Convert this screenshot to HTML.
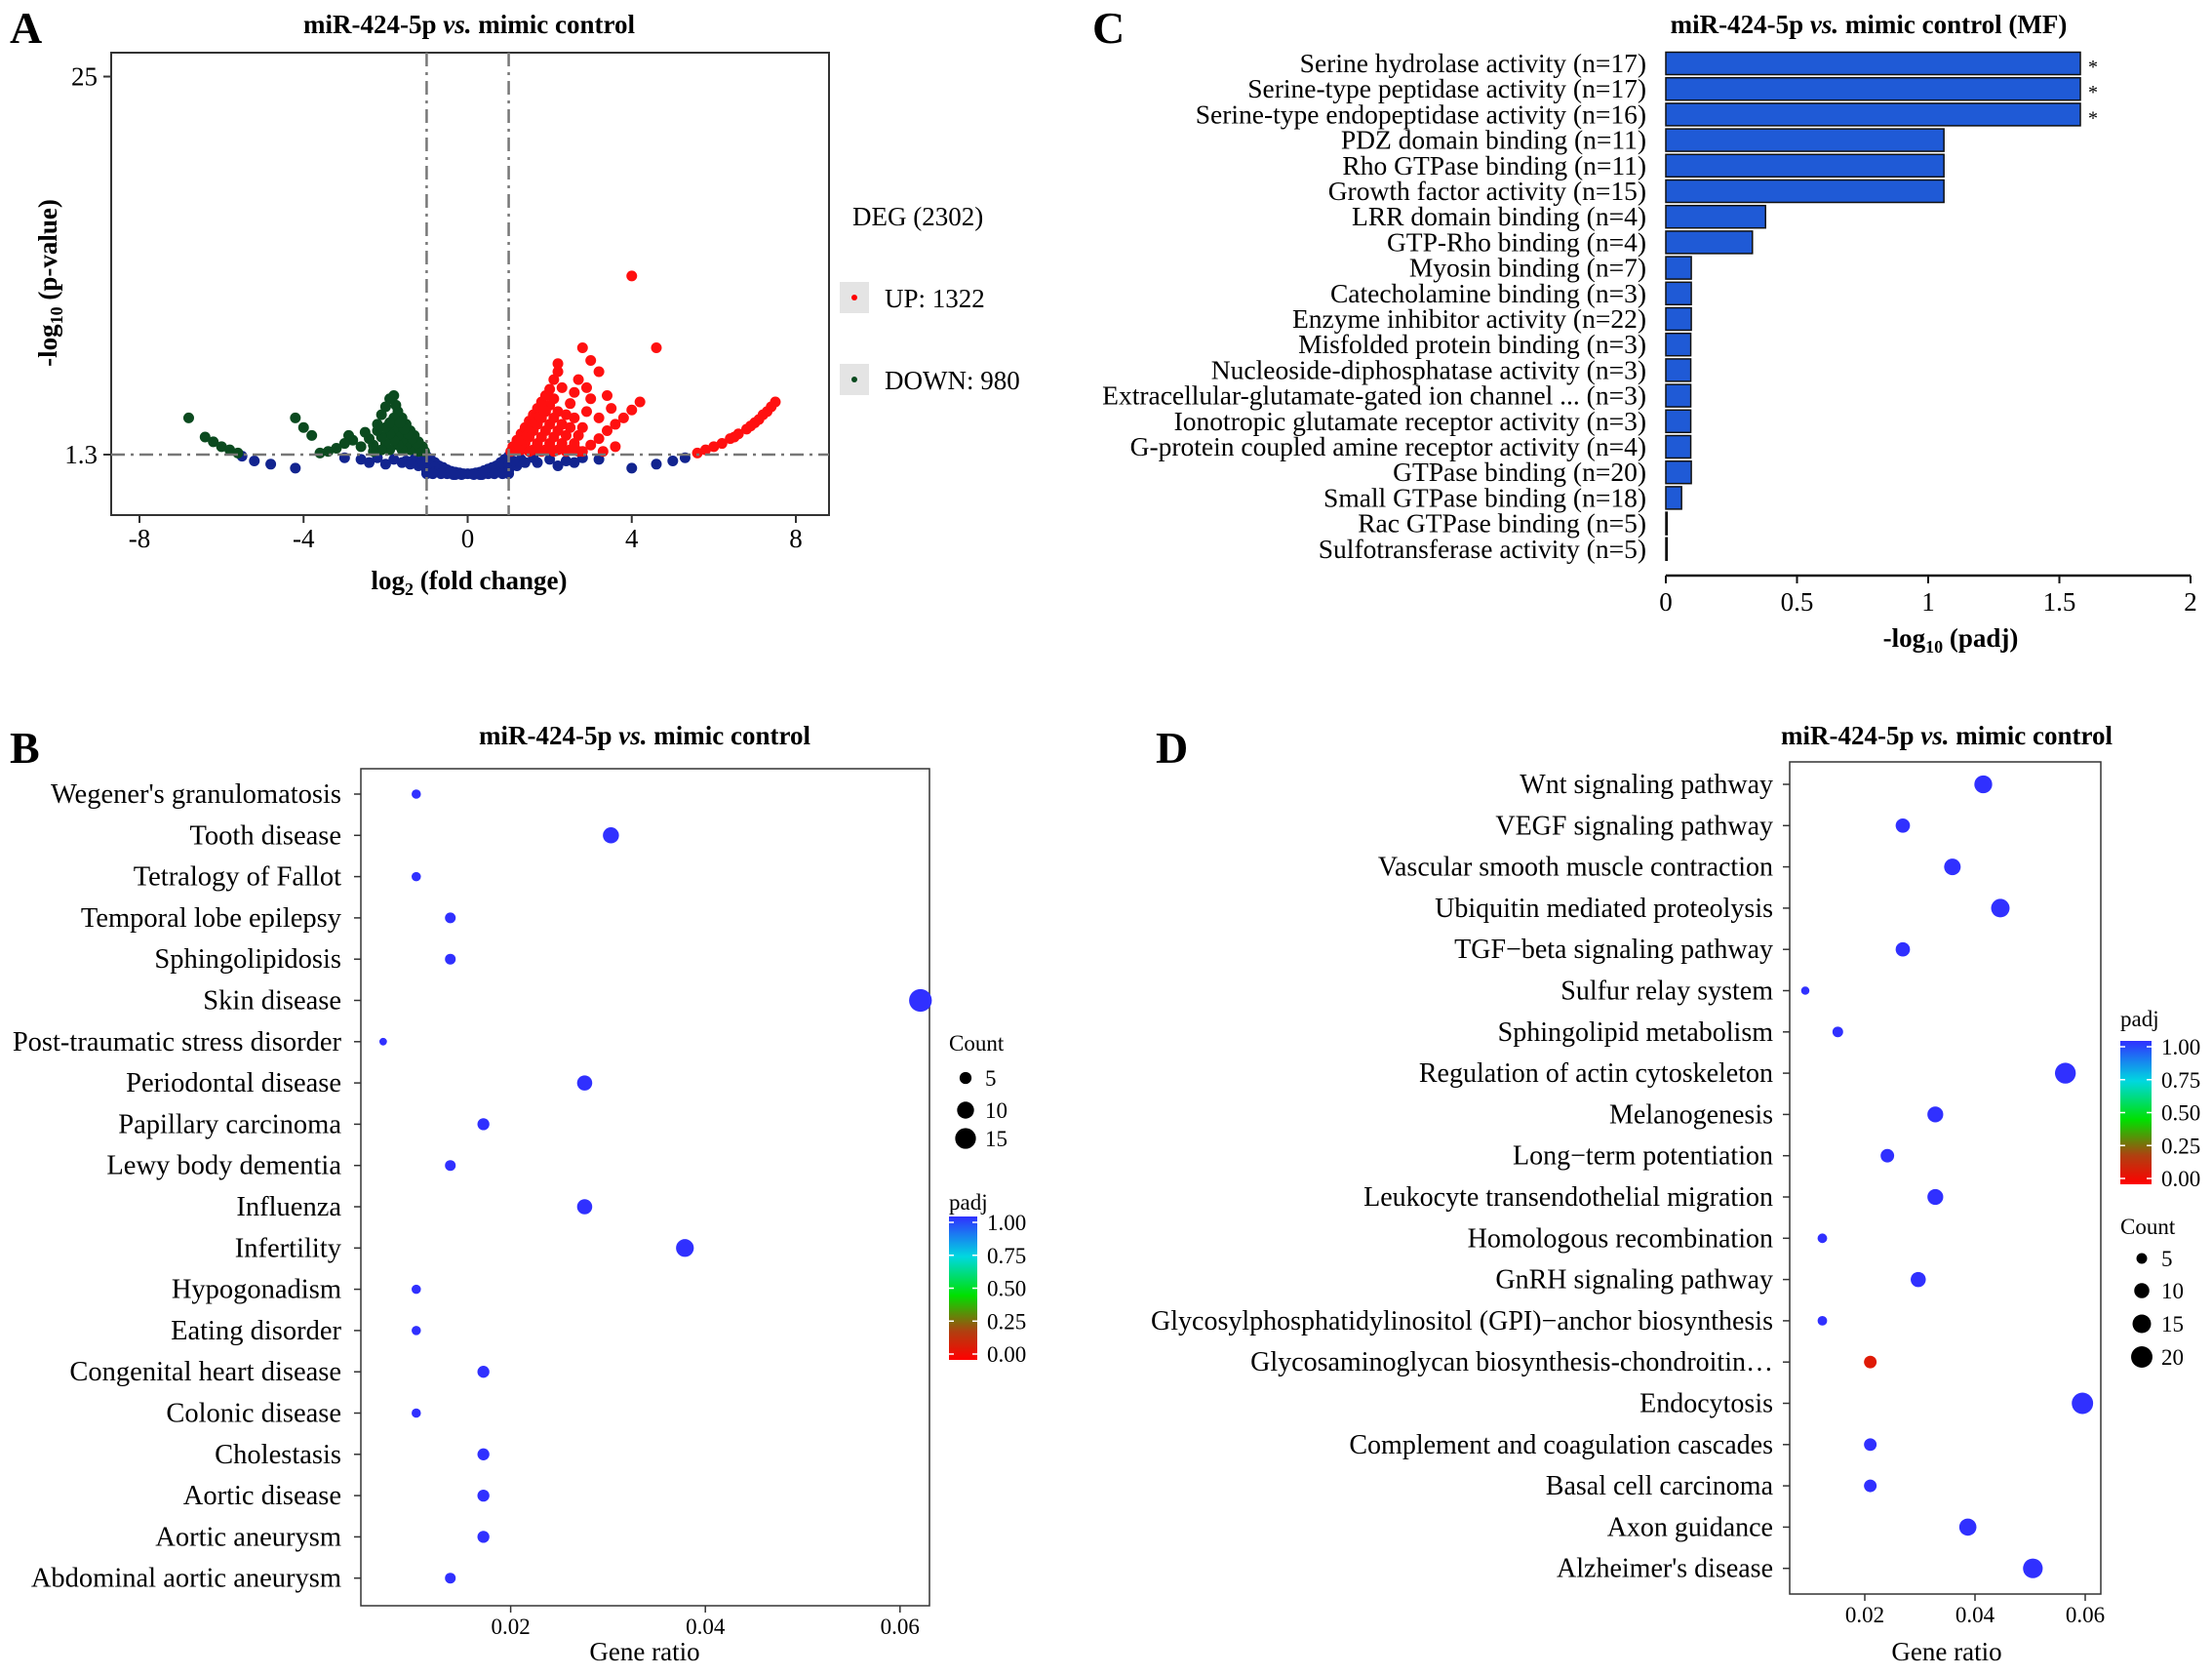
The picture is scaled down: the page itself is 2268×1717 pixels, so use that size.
<!DOCTYPE html>
<html><head><meta charset="utf-8"><style>
html,body{margin:0;padding:0;background:#fff}
svg{display:block;font-family:"Liberation Serif",serif}
</style></head><body>
<svg id="root" width="2268" height="1717" viewBox="0 0 2268 1717" xmlns="http://www.w3.org/2000/svg">
<defs>
<linearGradient id="padjGrad" x1="0" y1="1" x2="0" y2="0">
<stop offset="0" stop-color="#ff0000"/><stop offset="0.2" stop-color="#b04010"/><stop offset="0.45" stop-color="#00e000"/><stop offset="0.72" stop-color="#00d8e0"/><stop offset="1" stop-color="#3030ff"/>
</linearGradient>
</defs>
<text x="10" y="44" font-size="46" font-weight="bold">A</text>
<text x="10" y="782" font-size="46" font-weight="bold">B</text>
<text x="1120" y="44" font-size="46" font-weight="bold">C</text>
<text x="1185" y="782" font-size="46" font-weight="bold">D</text>

<g id="panelA">
<text x="481" y="34" font-size="27" font-weight="bold" text-anchor="middle">miR-424-5p <tspan font-style="italic">vs.</tspan> mimic control</text>
<rect x="114" y="54" width="736" height="474" fill="none" stroke="#333" stroke-width="2"/>
<g id="volDots"></g>
<text x="481" y="604" font-size="27" font-weight="bold" text-anchor="middle">log<tspan font-size="18" dy="6">2</tspan><tspan dy="-6"> (fold change)</tspan></text>
<text transform="translate(58,290) rotate(-90)" font-size="27" font-weight="bold" text-anchor="middle">-log<tspan font-size="18" dy="6">10</tspan><tspan dy="-6"> (p-value)</tspan></text>
<text x="874" y="231" font-size="27">DEG (2302)</text>
<rect x="861" y="289" width="30" height="32" fill="#e4e4e4"/>
<circle cx="876" cy="305" r="3" fill="#ff0000"/>
<text x="907" y="315" font-size="27">UP: 1322</text>
<rect x="861" y="373" width="30" height="32" fill="#e4e4e4"/>
<circle cx="876" cy="389" r="3" fill="#0b4a1f"/>
<text x="907" y="399" font-size="27">DOWN: 980</text>
</g>

<g id="panelC">
<text x="1916" y="34" font-size="27" font-weight="bold" text-anchor="middle">miR-424-5p <tspan font-style="italic">vs.</tspan> mimic control (MF)</text>
<g id="barG"></g>
<text x="2000" y="663" font-size="27" font-weight="bold" text-anchor="middle">-log<tspan font-size="18" dy="6">10</tspan><tspan dy="-6"> (padj)</tspan></text>
</g>

<g id="panelB">
<text x="661" y="763" font-size="27" font-weight="bold" text-anchor="middle">miR-424-5p <tspan font-style="italic">vs.</tspan> mimic control</text>
<rect x="370" y="788" width="583" height="858" fill="none" stroke="#333" stroke-width="1.5"/>
<g id="dotB"></g>
<text x="661" y="1702" font-size="27" text-anchor="middle">Gene ratio</text>
</g>

<g id="panelD">
<text x="1996" y="763" font-size="27" font-weight="bold" text-anchor="middle">miR-424-5p <tspan font-style="italic">vs.</tspan> mimic control</text>
<rect x="1835" y="781" width="319" height="853" fill="none" stroke="#333" stroke-width="1.5"/>
<g id="dotD"></g>
<text x="1996" y="1702" font-size="27" text-anchor="middle">Gene ratio</text>
</g>
</svg>
<script>
const blueX=[-1,-0.9,-0.8,-0.7,-0.6,-0.5,-0.4,-0.3,-0.2,-0.1,0,0.1,0.2,0.3,0.4,0.5,0.6,0.7,0.8,0.9,1,-1,-1,-1,-1,-0.9,-0.9,-0.8,-0.8,-0.7,-0.6,-0.5,0.5,0.6,0.7,0.8,0.8,0.9,0.9,1,1,1,1,-0.3,0.3,-1.3,-1.5,-1.8,-2.2,-2.6,-3,1.3,1.6,2,2.4,2.8,3.2,-1.2,-1.4,1.2,1.4,-5.5,-5.2,-4.8,-4.2,4,4.6,5,5.3,-2,2.2,-0.65,-0.35,0.35,0.65,-0.85,0.85,-0.15,0.15,-1.1,1.1,-1.6,1.7,-2.4,2.6];
const blueY=[1.2,1.0,0.8,0.6,0.5,0.35,0.25,0.2,0.15,0.1,0.1,0.1,0.15,0.2,0.3,0.4,0.5,0.6,0.8,1.0,1.2,0.9,0.6,0.3,0.1,0.6,0.3,0.5,0.2,0.3,0.2,0.1,0.1,0.2,0.3,0.5,0.2,0.6,0.3,0.9,0.6,0.3,0.1,0.05,0.05,1.0,0.9,1.0,1.1,1.0,1.1,1.0,1.1,1.0,0.9,1.1,1.0,0.6,0.7,0.6,0.8,1.2,0.9,0.7,0.45,0.45,0.7,0.9,1.1,0.7,0.6,0.1,0.05,0.05,0.1,0.1,0.1,0.05,0.05,0.9,0.9,0.8,0.8,0.8,0.8];
const greenX=[-1.05,-1.1,-1.2,-1.3,-1.4,-1.5,-1.6,-1.7,-1.75,-1.2,-1.3,-1.4,-1.5,-1.6,-1.7,-1.8,-1.4,-1.5,-1.6,-1.7,-1.8,-1.6,-1.7,-1.8,-1.9,-2.0,-1.9,-2.0,-2.1,-2.2,-2.1,-2.3,-2.4,-2.5,-2.3,-2.6,-2.8,-2.9,-3.0,-3.2,-3.4,-3.6,-1.8,-1.9,-2.0,-2.1,-1.9,-4.2,-4.0,-3.8,-6.8,-6.4,-6.2,-6.0,-5.8,-5.6,-2.2,-1.15,-1.25,-1.35,-1.45,-1.55,-1.65];
const greenY=[1.5,1.8,2.1,2.5,2.8,3.2,3.6,4.0,4.4,1.5,1.9,2.2,2.5,2.8,3.2,3.6,1.6,1.9,2.2,2.5,2.9,1.6,1.9,2.2,2.6,3.0,1.6,2.0,2.4,2.8,1.6,1.9,2.3,2.7,1.5,1.8,2.2,2.5,2.0,1.7,1.5,1.4,5.0,4.8,4.3,3.8,3.3,3.6,3.0,2.5,3.6,2.4,2.1,1.8,1.6,1.4,3.2,1.6,2.0,2.3,2.6,2.9,3.3];
const redX=[1.05,1.1,1.2,1.3,1.4,1.5,1.6,1.7,1.8,1.9,2.0,2.1,2.2,1.3,1.4,1.5,1.6,1.7,1.8,1.9,2.0,2.1,1.6,1.7,1.8,1.9,2.0,2.1,2.2,1.9,2.0,2.1,2.2,2.3,2.4,2.2,2.3,2.4,2.5,2.6,2.5,2.6,2.7,2.8,2.9,2.8,3.0,3.2,3.4,3.6,3.8,4.0,4.2,3.3,3.6,2.5,2.6,2.7,2.8,3.0,2.9,3.2,3.4,3.0,2.2,2.3,4.0,4.6,3.5,3.2,5.6,5.8,6.0,6.2,6.4,6.6,6.8,7.0,7.2,7.4,7.5,6.5,6.9,7.1,7.3,1.15,1.25,1.35,1.45,1.55,1.65,1.75,1.85,1.5,1.8,2.1,2.4,2.7,1.7,2.0,2.3,2.6];
const redY=[1.5,1.8,2.2,2.6,3.0,3.4,3.8,4.2,4.6,5.0,5.4,6.0,6.5,1.6,2.0,2.4,2.8,3.2,3.6,4.0,4.4,4.8,1.6,2.0,2.4,2.8,3.2,3.6,4.0,1.6,2.0,2.4,2.8,3.2,3.8,1.6,2.0,2.5,3.0,3.6,1.6,2.0,2.5,3.0,4.0,1.5,1.9,2.3,2.8,3.2,3.6,4.1,4.6,1.5,1.8,4.5,5.2,6.0,8.0,7.2,5.5,6.5,5.0,4.8,7.0,5.5,12.5,8.0,4.2,3.6,1.4,1.6,1.8,2.0,2.3,2.6,2.9,3.3,3.8,4.3,4.6,2.4,3.1,3.5,4.0,1.6,1.9,2.2,2.5,2.9,3.3,3.7,4.1,1.5,1.5,1.5,1.5,1.5,1.8,1.8,1.8,1.8];
const volXTicks=[-8,-4,0,4,8];
const volYTicks=[1.3,25];

const barLabels=["Serine hydrolase activity (n=17)","Serine-type peptidase activity (n=17)","Serine-type endopeptidase activity (n=16)","PDZ domain binding (n=11)","Rho GTPase binding (n=11)","Growth factor activity (n=15)","LRR domain binding (n=4)","GTP-Rho binding (n=4)","Myosin binding (n=7)","Catecholamine binding (n=3)","Enzyme inhibitor activity (n=22)","Misfolded protein binding (n=3)","Nucleoside-diphosphatase activity (n=3)","Extracellular-glutamate-gated ion channel ... (n=3)","Ionotropic glutamate receptor activity (n=3)","G-protein coupled amine receptor activity (n=4)","GTPase binding (n=20)","Small GTPase binding (n=18)","Rac GTPase binding (n=5)","Sulfotransferase activity (n=5)"];
const barValues=[1.58,1.58,1.58,1.06,1.06,1.06,0.38,0.33,0.097,0.097,0.097,0.095,0.095,0.095,0.095,0.095,0.097,0.06,0.005,0.005];
const barStars=[1,1,1,0,0,0,0,0,0,0,0,0,0,0,0,0,0,0,0,0];
const barTicks=[0,0.5,1,1.5,2];

const bTerms=["Wegener's granulomatosis","Tooth disease","Tetralogy of Fallot","Temporal lobe epilepsy","Sphingolipidosis","Skin disease","Post-traumatic stress disorder","Periodontal disease","Papillary carcinoma","Lewy body dementia","Influenza","Infertility","Hypogonadism","Eating disorder","Congenital heart disease","Colonic disease","Cholestasis","Aortic disease","Aortic aneurysm","Abdominal aortic aneurysm"];
const bRatio=[0.0103,0.0303,0.0103,0.0138,0.0138,0.0621,0.0069,0.0276,0.0172,0.0138,0.0276,0.0379,0.0103,0.0103,0.0172,0.0103,0.0172,0.0172,0.0172,0.0138];
const bCount=[3,9,3,4,4,18,2,8,5,4,8,11,3,3,5,3,5,5,5,4];
const bPadj=[1,1,1,1,1,1,1,1,1,1,1,1,1,1,1,1,1,1,1,1];
const bTicks=[0.02,0.04,0.06];
const bCountLegend=[5,10,15];

const dTerms=["Wnt signaling pathway","VEGF signaling pathway","Vascular smooth muscle contraction","Ubiquitin mediated proteolysis","TGF\u2212beta signaling pathway","Sulfur relay system","Sphingolipid metabolism","Regulation of actin cytoskeleton","Melanogenesis","Long\u2212term potentiation","Leukocyte transendothelial migration","Homologous recombination","GnRH signaling pathway","Glycosylphosphatidylinositol (GPI)\u2212anchor biosynthesis","Glycosaminoglycan biosynthesis-chondroitin\u2026","Endocytosis","Complement and coagulation cascades","Basal cell carcinoma","Axon guidance","Alzheimer's disease"];
const dRatio=[0.0415,0.0269,0.0359,0.0446,0.0269,0.0092,0.0151,0.0564,0.0328,0.0241,0.0328,0.0123,0.0297,0.0123,0.021,0.0595,0.021,0.021,0.0387,0.0505];
const dCount=[14,9,12,15,9,3,5,19,11,8,11,4,10,4,7,20,7,7,13,17];
const dPadj=[1,1,1,1,1,1,1,1,1,1,1,1,1,1,0.08,1,1,1,1,1];
const dTicks=[0.02,0.04,0.06];
const dCountLegend=[5,10,15,20];
const padjTicks=["1.00","0.75","0.50","0.25","0.00"];

const NS="http://www.w3.org/2000/svg";
function mk(tag,attrs,parent,txt){const e=document.createElementNS(NS,tag);for(const k in attrs)e.setAttribute(k,attrs[k]);if(txt!==undefined)e.textContent=txt;parent.appendChild(e);return e;}

const vx=v=>143+(v+8)*(816-143)/16;
const vy=v=>466-(v-1.3)*16.35;
const vol=document.getElementById('volDots');
function drawSet(xs,ys,col,name){for(let i=0;i<xs.length;i++){const c=mk('circle',{cx:vx(xs[i]),cy:vy(ys[i]),r:5.5,fill:col},vol);

}}
drawSet(blueX,blueY,'#12248f','point-not-significant');
drawSet(greenX,greenY,'#0b4a1f','point-down');
drawSet(redX,redY,'#ff1010','point-up');
let l=mk('line',{x1:vx(-1),x2:vx(-1),y1:54,y2:528,stroke:'#777','stroke-width':2.5,'stroke-dasharray':'14 6 3 6'},vol);


l=mk('line',{x1:vx(1),x2:vx(1),y1:54,y2:528,stroke:'#777','stroke-width':2.5,'stroke-dasharray':'14 6 3 6'},vol);


l=mk('line',{x1:114,x2:850,y1:vy(1.3),y2:vy(1.3),stroke:'#777','stroke-width':2.5,'stroke-dasharray':'14 6 3 6'},vol);


volXTicks.forEach(t=>{mk('line',{x1:vx(t),x2:vx(t),y1:528,y2:536,stroke:'#333','stroke-width':2},vol);
const e=mk('text',{x:vx(t),y:561,'font-size':27,'text-anchor':'middle'},vol,String(t));

});
volYTicks.forEach(t=>{mk('line',{x1:106,x2:114,y1:vy(t),y2:vy(t),stroke:'#333','stroke-width':2},vol);
const e=mk('text',{x:100,y:vy(t)+9,'font-size':27,'text-anchor':'end'},vol,String(t));

});

const bg=document.getElementById('barG');
const bx=v=>1708+v*269;
const by=i=>65+i*26.2;
barLabels.forEach((lab,i)=>{
 const t=mk('text',{x:1688,y:by(i)+9,'font-size':27.5,'text-anchor':'end'},bg,lab);
 
 
 const r=mk('rect',{x:bx(0),y:by(i)-11.5,width:Math.max(1,bx(barValues[i])-bx(0)),height:23,fill:'#1f5ad6',stroke:'#111','stroke-width':1.5},bg);
 
 
 if(barStars[i]){const s=mk('text',{x:bx(barValues[i])+8,y:by(i)+10,'font-size':20},bg,'*');
 
 }
});
mk('line',{x1:bx(0),x2:bx(2),y1:590,y2:590,stroke:'#111','stroke-width':2.5},bg);
barTicks.forEach(t=>{mk('line',{x1:bx(t),x2:bx(t),y1:590,y2:598,stroke:'#111','stroke-width':2},bg);
const e=mk('text',{x:bx(t),y:626,'font-size':27,'text-anchor':'middle'},bg,String(t));

});

function padjColor(p){const stops=[[0,[255,0,0]],[0.2,[176,64,16]],[0.45,[0,224,0]],[0.72,[0,216,224]],[1,[48,48,255]]];
 for(let i=1;i<stops.length;i++){if(p<=stops[i][0]){const a=stops[i-1],b=stops[i];const f=(p-a[0])/(b[0]-a[0]);const c=a[1].map((v,k)=>Math.round(v+(b[1][k]-v)*f));return `rgb(${c})`;}}return 'rgb(48,48,255)';}
function dotPlot(gid,terms,ratio,count,padj,ticks,x0,xPer,row0,labRight,boxL,boxB,rk,legend,fs){
 const g=document.getElementById(gid);
 const sx=v=>x0+(v-0.02)*xPer;
 const sy=i=>row0+i*42.3;
 terms.forEach((tm,i)=>{
  mk('line',{x1:boxL-7,x2:boxL,y1:sy(i),y2:sy(i),stroke:'#333','stroke-width':1.5},g);
  const t=mk('text',{x:labRight,y:sy(i)+9,'font-size':fs,'text-anchor':'end'},g,tm);
  
  
  const c=mk('circle',{cx:sx(ratio[i]),cy:sy(i),r:rk*Math.sqrt(count[i]),fill:padjColor(padj[i])},g);
  
  
 });
 ticks.forEach(t=>{mk('line',{x1:sx(t),x2:sx(t),y1:boxB,y2:boxB+7,stroke:'#333','stroke-width':1.5},g);
  const e=mk('text',{x:sx(t),y:boxB+29,'font-size':23,'text-anchor':'middle'},g,String(t));
  
  });
 const L=legend;
 const ct=mk('text',{x:L.countX,y:L.countY,'font-size':23},g,'Count');
 
 
 L.counts.forEach((c,i)=>{const y=L.countItemY[i];
  mk('circle',{cx:L.dotX,cy:y,r:rk*Math.sqrt(c),fill:'#000'},g);
  const e=mk('text',{x:L.dotX+20,y:y+8,'font-size':23},g,String(c));
  
  });
 const pt=mk('text',{x:L.barX,y:L.padjY,'font-size':23},g,'padj');
 
 
 const cb=mk('rect',{x:L.barX,y:L.barTop,width:L.barW,height:L.barBot-L.barTop,fill:'url(#padjGrad)'},g);
 
 
 padjTicks.forEach((p,i)=>{const y=L.barTop+6+i*(L.barBot-L.barTop-12)/4;
  mk('line',{x1:L.barX,x2:L.barX+5,y1:y,y2:y,stroke:'#fff','stroke-width':1.5},g);
  mk('line',{x1:L.barX+L.barW-5,x2:L.barX+L.barW,y1:y,y2:y,stroke:'#fff','stroke-width':1.5},g);
  const e=mk('text',{x:L.barX+L.barW+10,y:y+8,'font-size':23},g,p);
  
  });
}
dotPlot('dotB',bTerms,bRatio,bCount,bPadj,bTicks,523.6,9980,814,350,370,1646,2.75,
 {countX:973,countY:1077,dotX:990,counts:bCountLegend,countItemY:[1105,1138,1167],padjY:1240,barX:973,barW:29,barTop:1247,barBot:1394},28.5);
dotPlot('dotD',dTerms,dRatio,dCount,dPadj,dTicks,1912,5650,804,1818,1835,1634,2.45,
 {countX:2174,countY:1265,dotX:2196,counts:dCountLegend,countItemY:[1290,1323,1357,1391],padjY:1052,barX:2174,barW:32,barTop:1067,barBot:1214},28);
</script>
</body></html>
